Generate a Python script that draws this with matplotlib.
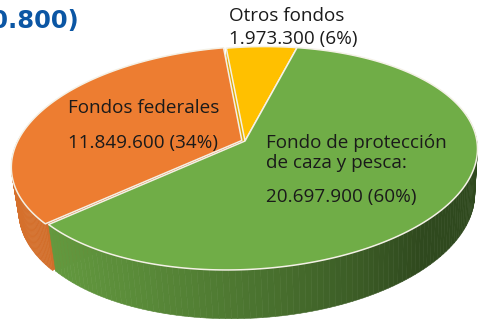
import numpy as np
import matplotlib.pyplot as plt
from matplotlib.patches import Polygon
from matplotlib.colors import to_rgb

plt.rcParams['font.family'] = ['Open Sans', 'DejaVu Sans']

# ----------------------------
# Data (clockwise from the top)
# ----------------------------
names = ["Otros fondos", "Fondo de protección\nde caza y pesca:", "Fondos federales"]
values = [1973300, 20697900, 11849600]
colors = ["#FFC000", "#70AD47", "#ED7D31"]
explode = [0.0, 0.0, 0.015]
title_text = "Total (34.520.800)"

total = sum(values)

# ----------------------------
# 3D pie geometry (pixel space)
# ----------------------------
W, H = 482, 324
cx, cy = 245, 141          # centre of the top face
Sx, Sy = 229, 217          # horizontal / vertical scale
elev = np.radians(30)      # viewing elevation
D = 5.57                   # camera distance (perspective)
thick = 0.24               # pie height
roll = np.radians(3.0)     # slight roll of the whole pie
first_angle = 356          # angle of first slice, clockwise from 12 o'clock


def project(t, z=0.0, r=1.0, off=(0.0, 0.0)):
    x3 = r * np.cos(t) + off[0]
    y3 = r * np.sin(t) + off[1]
    depth = y3 * np.cos(elev) - z * np.sin(elev)
    s = D / (D + depth)
    dx = Sx * x3 * s
    dy = -Sy * (y3 * np.sin(elev) + z * np.cos(elev)) * s
    X = cx + dx * np.cos(roll) + dy * np.sin(roll)
    Y = cy - dx * np.sin(roll) + dy * np.cos(roll)
    return X, Y


def shade(color, t):
    f = 0.55 + 0.35 * np.cos(t - np.radians(200))
    f = max(f, 0.42)
    return tuple(c * f for c in to_rgb(color))


fig = plt.figure(figsize=(W / 100, H / 100), dpi=100)
ax = fig.add_axes([0, 0, 1, 1])
ax.set_xlim(0, W)
ax.set_ylim(H, 0)
ax.axis('off')

# slice angle ranges (math angles, going clockwise)
t0 = np.radians(90 - first_angle) + 2 * np.pi
slices = []
for v, col, ex in zip(values, colors, explode):
    span = 2 * np.pi * v / total
    t1 = t0 - span
    mid = (t0 + t1) / 2
    off = (ex * np.cos(mid), ex * np.sin(mid))
    slices.append((t0, t1, col, off))
    t0 = t1

# side walls, drawn far to near
pieces = []
for ta, tb, col, off in slices:
    ts = np.linspace(ta, tb, 160)
    for a, b in zip(ts[:-1], ts[1:]):
        m = (a + b) / 2
        if np.sin(m) > 0.15:
            continue
        xa, ya = project(a, 0, off=off)
        xb, yb = project(b, 0, off=off)
        xc, yc = project(b, -thick, off=off)
        xd, yd = project(a, -thick, off=off)
        c = shade(col, m)
        pieces.append((np.sin(m), [(xa, ya), (xb, yb), (xc, yc), (xd, yd)], c))
    # radial walls
    for te in (ta, tb):
        p1 = project(te, 0, r=0, off=off)
        p2 = project(te, 0, off=off)
        p3 = project(te, -thick, off=off)
        p4 = project(te, -thick, r=0, off=off)
        c = tuple(ch * 0.88 for ch in to_rgb(col))
        pieces.append((np.sin(te) * 0.5 + 0.4, [p1, p2, p3, p4], c))

for _, pts, c in sorted(pieces, key=lambda p: -p[0]):
    ax.add_patch(Polygon(pts, closed=True, facecolor=c, edgecolor=c, lw=0.4))

# top faces
for ta, tb, col, off in slices:
    ts = np.linspace(ta, tb, 200)
    xs, ys = project(ts, 0, off=off)
    ctr = project(0, 0, r=0, off=off)
    pts = [ctr] + list(zip(xs, ys))
    ax.add_patch(Polygon(pts, closed=True, facecolor=col,
                         edgecolor='#f4f1e6', lw=1.1, joinstyle='round'))

# labels
label_pos = [(229, 21), (266, 148), (68, 113)]
value_base = [44, 202, 148]
line_step = 20.5
for name, v, (lx, ly), vb in zip(names, values, label_pos, value_base):
    for i, line in enumerate(name.split("\n")):
        ax.text(lx, ly + i * line_step, line, fontsize=13.6, color='#1a1a1a',
                ha='left', va='baseline')
    pct = round(100 * v / total)
    vtxt = f"{v:,}".replace(",", ".") + f" ({pct}%)"
    ax.text(lx, vb, vtxt, fontsize=13.6, color='#1a1a1a',
            ha='left', va='baseline')

ax.text(79, 28, title_text, fontsize=17.5, fontweight='bold', color='#0b56a4',
        family='DejaVu Sans', ha='right', va='baseline')

fig.savefig("out.png", dpi=100)
